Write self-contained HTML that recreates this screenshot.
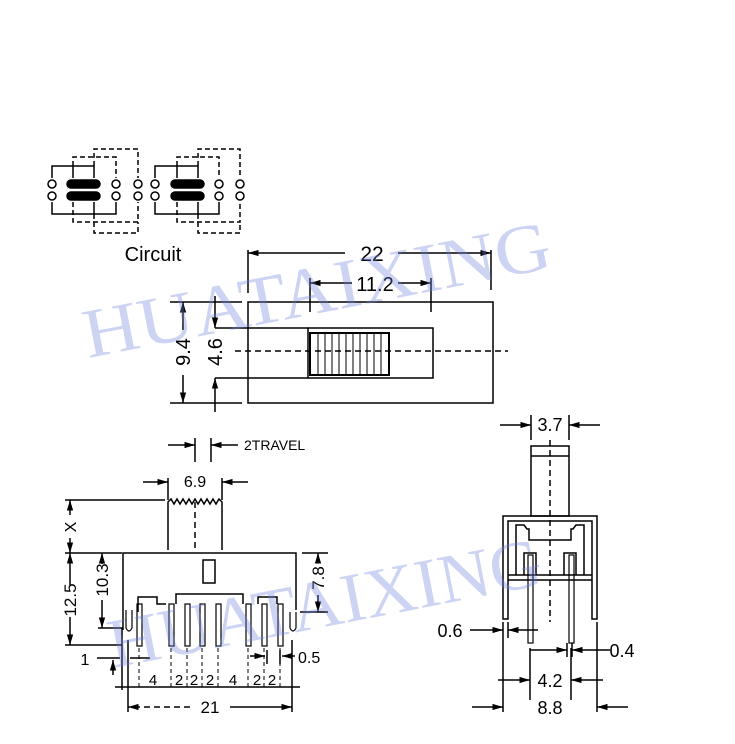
<!DOCTYPE html>
<html><head><meta charset="utf-8"><style>html,body{margin:0;padding:0;background:#fff}svg{display:block}</style></head>
<body>
<svg width="735" height="744" viewBox="0 0 735 744" xmlns="http://www.w3.org/2000/svg" font-family="Liberation Sans, sans-serif">
<defs>
<marker id="a" viewBox="0 0 10 10" refX="10" refY="5" markerWidth="7" markerHeight="7" orient="auto-start-reverse"><path d="M0,2 L10,5 L0,8 z" fill="#000"/></marker>
</defs>
<rect width="735" height="744" fill="#fff"/>
<g stroke="#000" stroke-width="1.5" fill="none">
<g>
<circle cx="52" cy="184" r="4"/><circle cx="52" cy="196" r="4"/>
<circle cx="116" cy="184" r="4"/><circle cx="116" cy="196" r="4"/>
<circle cx="138" cy="184" r="4"/><circle cx="138" cy="196" r="4"/>
<circle cx="155" cy="184" r="4"/><circle cx="155" cy="196" r="4"/>
<circle cx="219" cy="184" r="4"/><circle cx="219" cy="196" r="4"/>
<circle cx="240" cy="184" r="4"/><circle cx="240" cy="196" r="4"/>
<rect x="67" y="180" width="33" height="8" rx="4" fill="#000"/>
<rect x="67" y="192" width="33" height="8" rx="4" fill="#000"/>
<rect x="171" y="180" width="33" height="8" rx="4" fill="#000"/>
<rect x="171" y="192" width="33" height="8" rx="4" fill="#000"/>
<path d="M52,178 V166 H94 V178 M73,166 V178 M52,202 V214 H116 V202 M94,214 V202"/>
<path d="M155,178 V166 H198 V178 M177,166 V178 M155,202 V214 H219 V202 M198,214 V202"/>
<g stroke-dasharray="5,3">
<path d="M73,166 V157 H116 V178 M94,166 V149 H138 V178 M73,202 V222 H138 V202 M94,214 V233 H138 V222"/>
<path d="M177,166 V157 H219 V178 M198,166 V149 H240 V178 M177,202 V222 H240 V202 M198,214 V233 H240 V222"/>
</g>
</g>
<rect x="248" y="302" width="245" height="101"/>
<rect x="308" y="328" width="125" height="50"/>
<rect x="310" y="333" width="79" height="42" stroke-width="2"/>
<path d="M318,334 V374 M325,334 V374 M332,334 V374 M339,334 V374 M346,334 V374 M353,334 V374 M360,334 V374 M367,334 V374 M374,334 V374 M381,334 V374" stroke-width="1"/>
<line x1="235" y1="351" x2="508" y2="351" stroke-dasharray="6,4"/>
<path d="M248,250 V293 M491,250 V290 M310,278 V312 M431,278 V312"/>
<line x1="248" y1="253" x2="345" y2="253" marker-start="url(#a)"/>
<line x1="398" y1="253" x2="491" y2="253" marker-end="url(#a)"/>
<line x1="310" y1="283" x2="352" y2="283" marker-start="url(#a)"/>
<line x1="398" y1="283" x2="431" y2="283" marker-end="url(#a)"/>
<path d="M170,302 H242 M170,403 H242 M215,328 H308 M215,378 H308"/>
<line x1="183" y1="330" x2="183" y2="302" marker-end="url(#a)"/>
<line x1="183" y1="375" x2="183" y2="403" marker-end="url(#a)"/>
<line x1="215" y1="296" x2="215" y2="328" marker-end="url(#a)"/>
<line x1="215" y1="412" x2="215" y2="378" marker-end="url(#a)"/>
<path d="M195,438 V462 M211,438 V462"/>
<line x1="168" y1="445" x2="195" y2="445" marker-end="url(#a)"/>
<line x1="238" y1="445" x2="211" y2="445" marker-end="url(#a)"/>
<path d="M168,478 V500 M222,478 V500"/>
<line x1="143" y1="482" x2="168" y2="482" marker-end="url(#a)"/>
<line x1="248" y1="482" x2="222" y2="482" marker-end="url(#a)"/>
<path d="M168,550 V502 L171,499 L174,504 L177,499 L180,504 L183,499 L186,504 L189,499 L192,504 L195,499 L198,504 L201,499 L204,504 L207,499 L210,504 L213,499 L216,504 L219,499 L222,502 V550"/>
<line x1="195" y1="502" x2="195" y2="550" stroke-dasharray="6,4"/>
<path d="M123,630 V553 H296 V610"/>
<rect x="203" y="560" width="12" height="23"/>
<path d="M138,612 V597 H157 V604 H166 M176,604 V594 H243 V604 M258,604 V597 H277 V604"/>
<g stroke-width="1.2">
<rect x="137" y="604" width="5" height="42"/><rect x="169" y="604" width="5" height="42"/>
<rect x="185" y="604" width="5" height="42"/><rect x="200" y="604" width="5" height="42"/>
<rect x="216" y="604" width="5" height="42"/><rect x="246" y="604" width="5" height="42"/>
<rect x="262" y="604" width="5" height="42"/><rect x="278" y="604" width="5" height="42"/>
<path d="M126,610 V628 Q129,634 132,628 V610 M290,612 V628 Q293,634 296,628 V612"/>
</g>
<g stroke-dasharray="4,3" stroke-width="1">
<path d="M139,648 V688 M171,648 V688 M187,648 V688 M202,648 V688 M218,648 V688 M248,648 V688 M264,648 V688 M280,648 V688"/>
</g>
<path d="M65,500 H165 M65,553 H122 M65,645 H122 M98,628 H123 M302,553 H328 M300,612 H328"/>
<line x1="70" y1="515" x2="70" y2="500" marker-end="url(#a)"/>
<line x1="70" y1="538" x2="70" y2="553" marker-end="url(#a)"/>
<line x1="70" y1="585" x2="70" y2="553" marker-end="url(#a)"/>
<line x1="70" y1="617" x2="70" y2="645" marker-end="url(#a)"/>
<line x1="102" y1="564" x2="102" y2="553" marker-end="url(#a)"/>
<line x1="102" y1="600" x2="102" y2="628" marker-end="url(#a)"/>
<line x1="318" y1="563" x2="318" y2="553" marker-end="url(#a)"/>
<line x1="318" y1="595" x2="318" y2="612" marker-end="url(#a)"/>
<path d="M128,640 V712 M292,640 V712 M122,628 V690"/>
<line x1="97" y1="658" x2="120" y2="658"/>
<line x1="113" y1="675" x2="113" y2="660" marker-end="url(#a)"/>
<line x1="130" y1="658" x2="150" y2="658" />
<line x1="115" y1="687" x2="300" y2="687"/>
<line x1="250" y1="656" x2="265" y2="656" marker-end="url(#a)"/>
<line x1="295" y1="656" x2="282" y2="656" marker-end="url(#a)"/>
<path d="M267,650 V664 M280,650 V664"/>
<line x1="190" y1="707" x2="128" y2="707" marker-end="url(#a)" stroke-dasharray="6,4"/>
<line x1="230" y1="707" x2="292" y2="707" marker-end="url(#a)"/>
<path d="M531,415 V440 M569,415 V440"/>
<line x1="500" y1="425" x2="531" y2="425" marker-end="url(#a)"/>
<line x1="600" y1="425" x2="569" y2="425" marker-end="url(#a)"/>
<rect x="531" y="446" width="38" height="70"/>
<line x1="531" y1="456" x2="569" y2="456"/>
<path d="M503,619 V516 H597 V619 H592 V521 H508 V619 Z"/>
<path d="M508,575 H592 M508,580 H592"/>
<path d="M516,575 V525 H524 L527,529 H529 V540 H571 V529 H573 L576,525 H584 V575"/>
<path d="M524,575 V553 H536 V575 M564,575 V553 H576 V575"/>
<rect x="528" y="555" width="5" height="88" stroke-width="1.2"/>
<rect x="569" y="555" width="5" height="88" stroke-width="1.2"/>
<line x1="550" y1="440" x2="550" y2="622" stroke-dasharray="6,4"/>
<path d="M503,622 V712 M508,622 V638 M597,622 V712 M530,648 V700 M571,648 V700 M567,643 V657 M572,643 V657"/>
<line x1="470" y1="630" x2="503" y2="630" marker-end="url(#a)"/>
<line x1="538" y1="630" x2="508" y2="630" marker-end="url(#a)"/>
<line x1="530" y1="650" x2="567" y2="650" marker-end="url(#a)"/>
<line x1="610" y1="650" x2="572" y2="650" marker-end="url(#a)"/>
<line x1="498" y1="680" x2="530" y2="680" marker-end="url(#a)"/>
<line x1="603" y1="680" x2="571" y2="680" marker-end="url(#a)"/>
<line x1="472" y1="707" x2="503" y2="707" marker-end="url(#a)"/>
<line x1="628" y1="707" x2="597" y2="707" marker-end="url(#a)"/>
</g>
<g fill="#000" font-size="18">
<text x="153" y="261" text-anchor="middle" font-size="20">Circuit</text>
<text x="372" y="261" text-anchor="middle" font-size="21">22</text>
<text x="375" y="291" text-anchor="middle" font-size="20">11.2</text>
<text transform="translate(190,352) rotate(-90)" text-anchor="middle" font-size="20">9.4</text>
<text transform="translate(222,352) rotate(-90)" text-anchor="middle" font-size="20">4.6</text>
<text x="244" y="450" font-size="14">2TRAVEL</text>
<text x="195" y="487" text-anchor="middle" font-size="16">6.9</text>
<text transform="translate(76,527) rotate(-90)" text-anchor="middle" font-size="16">X</text>
<text transform="translate(76,600) rotate(-90)" text-anchor="middle" font-size="17">12.5</text>
<text transform="translate(108,580) rotate(-90)" text-anchor="middle" font-size="17">10.3</text>
<text transform="translate(324,578) rotate(-90)" text-anchor="middle" font-size="17">7.8</text>
<text x="85" y="665" text-anchor="middle" font-size="16">1</text>
<text x="298" y="663" font-size="16">0.5</text>
<g font-size="15" text-anchor="middle">
<text x="153" y="685">4</text><text x="179" y="685">2</text><text x="194" y="685">2</text><text x="210" y="685">2</text>
<text x="233" y="685">4</text><text x="257" y="685">2</text><text x="272" y="685">2</text></g>
<text x="210" y="713" text-anchor="middle" font-size="17">21</text>
<text x="550" y="431" text-anchor="middle" font-size="18">3.7</text>
<text x="450" y="637" text-anchor="middle" font-size="18">0.6</text>
<text x="622" y="657" text-anchor="middle" font-size="18">0.4</text>
<text x="550" y="687" text-anchor="middle" font-size="18">4.2</text>
<text x="550" y="714" text-anchor="middle" font-size="18">8.8</text>
</g>
<g fill="rgba(110,130,220,0.35)" font-family="Liberation Serif, serif" font-size="70">
<text transform="translate(88,358) rotate(-11)" textLength="475" lengthAdjust="spacingAndGlyphs">HUATAIXING</text>
<text transform="translate(113,668) rotate(-11)" textLength="440" lengthAdjust="spacingAndGlyphs">HUATAIXING</text>
</g>
</svg>
</body></html>
